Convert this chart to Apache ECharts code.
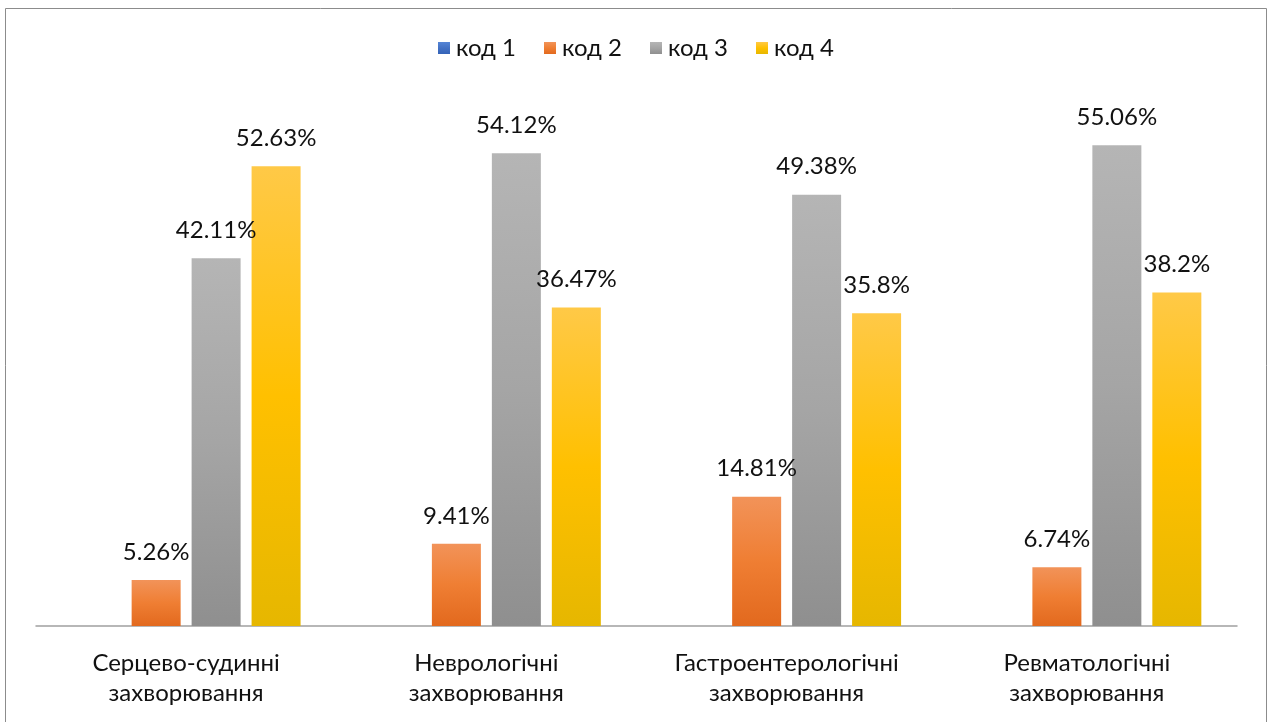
<!DOCTYPE html>
<html>
<head>
<meta charset="utf-8">
<style>
  html, body { margin: 0; padding: 0; background: #ffffff; }
  #chart { width: 1272px; height: 722px; }
</style>
<script src="https://cdn.jsdelivr.net/npm/echarts@6/dist/echarts.min.js"></script>
</head>
<body>
<div id="chart"></div>
<script>
// Disease groups on the category axis
const categories = [
  'Серцево-судинні\nзахворювання',
  'Неврологічні\nзахворювання',
  'Гастроентерологічні\nзахворювання',
  'Ревматологічні\nзахворювання'
];
const seriesNames = ['код 1', 'код 2', 'код 3', 'код 4'];
// Share of patients (%) per code
const code1 = [0, 0, 0, 0];
const code2 = [5.26, 9.41, 14.81, 6.74];
const code3 = [42.11, 54.12, 49.38, 55.06];
const code4 = [52.63, 36.47, 35.8, 38.2];

const FONT = 'Lato, "Open Sans", sans-serif';

function grad(top, mid, bottom) {
  return new echarts.graphic.LinearGradient(0, 0, 0, 1, [
    { offset: 0, color: top },
    { offset: 0.5, color: mid },
    { offset: 1, color: bottom }
  ]);
}

const fills = [
  grad('#5585D6', '#4472C4', '#3463B8'),
  grad('#F29359', '#EF7E33', '#E2691E'),
  grad('#B5B5B5', '#A5A5A5', '#8F8F8F'),
  grad('#FFC947', '#FFC000', '#E6B700')
];

const values = [code1, code2, code3, code4];

const chart = echarts.init(document.getElementById('chart'), null, { renderer: 'canvas' });

chart.setOption({
  animation: false,
  backgroundColor: '#ffffff',
  textStyle: { fontFamily: FONT },
  graphic: [{
    type: 'rect',
    shape: { x: 5.5, y: 8.5, width: 1261, height: 720 },
    style: { fill: 'none', stroke: '#8c8c8c', lineWidth: 1 },
    silent: true,
    z: -1
  }],
  legend: {
    top: 31,
    left: 'center',
    itemWidth: 12,
    itemHeight: 12,
    itemGap: 28,
    icon: 'rect',
    textStyle: { fontSize: 24, color: '#111', fontFamily: FONT, padding: [0, 0, 0, 1] },
    data: seriesNames
  },
  grid: { left: 36, right: 35, top: 102, bottom: 96, containLabel: false },
  xAxis: {
    type: 'category',
    data: categories,
    axisTick: { show: false },
    axisLine: { lineStyle: { color: '#a0a0a0', width: 1.5 } },
    axisLabel: {
      fontSize: 24,
      lineHeight: 30,
      color: '#111',
      margin: 22,
      interval: 0,
      fontFamily: FONT
    }
  },
  yAxis: {
    type: 'value',
    min: 0,
    max: 60,
    show: false,
    splitLine: { show: false }
  },
  series: values.map((data, i) => ({
    name: seriesNames[i],
    type: 'bar',
    data: data,
    barWidth: 49,
    barGap: '22.4%',
    itemStyle: { color: fills[i] },
    label: {
      show: i !== 0,
      position: 'top',
      distance: 14,
      fontSize: 24,
      lineHeight: 28,
      color: '#111',
      fontFamily: FONT,
      formatter: p => p.value + '%'
    }
  }))
});
</script>
</body>
</html>
